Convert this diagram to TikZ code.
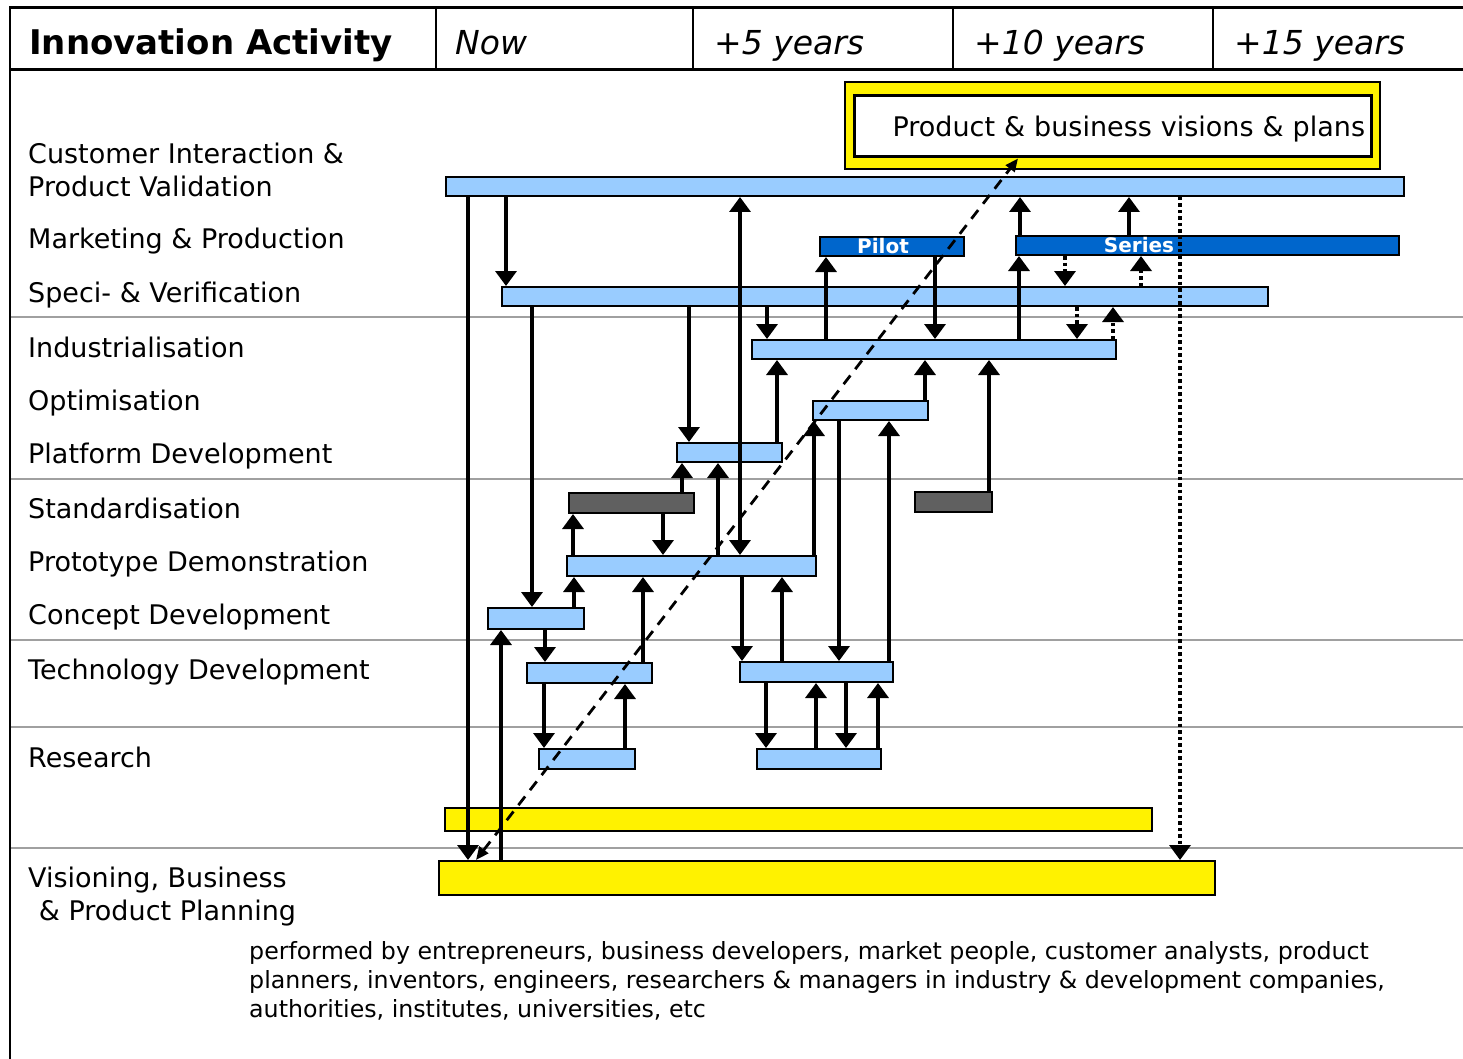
\documentclass[tikz,border=0pt]{standalone}
\usepackage{fontspec}
\setmainfont{DejaVu Sans}
\usetikzlibrary{arrows.meta}
\definecolor{barblue}{RGB}{153,204,255}
\definecolor{pilotblue}{RGB}{0,102,204}
\definecolor{stdgray}{RGB}{96,96,96}
\definecolor{rulegray}{RGB}{160,160,160}
\tikzset{
  bar/.style={draw, line width=2pt, inner sep=0pt},
  flow/.style={line width=3.5pt, -{Triangle[length=15pt,width=21pt]}},
  flowboth/.style={line width=3.5pt, {Triangle[length=15pt,width=21pt]}-{Triangle[length=15pt,width=21pt]}},
  dotflow/.style={flow, dash pattern=on 3.5pt off 3pt},
  vision/.style={line width=2.8pt, dash pattern=on 11pt off 8pt, {Triangle[length=13pt,width=11pt]}-{Triangle[length=13pt,width=11pt]}},
  rowlabel/.style={anchor=base west, inner sep=0pt, font=\fontsize{27}{33}\selectfont},
  headlabel/.style={anchor=base west, inner sep=0pt, font=\fontsize{33}{40}\selectfont\itshape},
  barlabel/.style={inner sep=0pt, text=white, font=\fontsize{20}{24}\selectfont\bfseries},
}
\begin{document}
\begin{tikzpicture}[x=1pt,y=-1pt]
  \useasboundingbox (0,0) rectangle (1463,1059);
  % table rules
  \foreach \y in {317,479,640,727,848}
    \draw[rulegray, line width=2.5pt] (10,\y) -- (1463,\y);
  \draw[line width=3pt] (9,8) -- (1463,8);
  \draw[line width=3pt] (9,70) -- (1463,70);
  \draw[line width=2.5pt] (10,7) -- (10,1059);
  \foreach \x in {436,693,953,1213}
    \draw[line width=2pt] (\x,8) -- (\x,70);
  % header
  \node[anchor=base west, inner sep=0pt, font=\fontsize{34}{40}\selectfont\bfseries] (hdact) at (29,55) {Innovation Activity};
  \node[headlabel] (hdnow) at (455,55) {Now};
  \node[headlabel] (hdfive) at (714,55) {+5 years};
  \node[headlabel] (hdten) at (974,55) {+10 years};
  \node[headlabel] (hdfifteen) at (1234,55) {+15 years};
  % row labels
  \node[rowlabel, align=left, anchor=north west] (labci) at (28,143) {Customer Interaction \&\\Product Validation};
  \foreach \y/\t [count=\i] in {249/Marketing \& Production, 302/Speci- \& Verification,
      357/Industrialisation, 410/Optimisation, 463/Platform Development,
      518/Standardisation, 571/Prototype Demonstration, 624/Concept Development,
      679/Technology Development, 767/Research}
    \node[rowlabel] (lab\i) at (28,\y) {\t};
  \node[rowlabel, align=left, anchor=north west] (labvis) at (28,867) {Visioning, Business\\\hspace*{0.4em}\& Product Planning};
  \node[anchor=north west, inner sep=0pt, align=left, font=\fontsize{23.7}{29}\selectfont] (performers) at (249,941)
    {performed by entrepreneurs, business developers, market people, customer analysts, product\\
     planners, inventors, engineers, researchers \& managers in industry \& development companies,\\
     authorities, institutes, universities, etc};
  % visions box
  \node[bar, fill=yellow, minimum width=535pt, minimum height=87pt] (visionsframe) at (1112.5,125.5) {};
  \node[bar, line width=3pt, fill=white, minimum width=517pt, minimum height=61pt, text width=505pt, align=right,
        text depth=0pt, font=\fontsize{27}{33}\selectfont] (visions) at (1112.5,126.5) {Product \& business visions \& plans};
  % activity bars
  \foreach \n/\xa/\ya/\xb/\yb/\c in {ci/446/177/1404/196/barblue, pilot/820/237/964/256/pilotblue,
      series/1016/236/1399/255/pilotblue, spec/502/287/1268/306/barblue, ind/752/340/1116/359/barblue,
      opt/813/401/928/420/barblue, plat/677/443/782/462/barblue, stdA/569/493/694/513/stdgray,
      stdB/915/492/992/512/stdgray, proto/567/556/816/576/barblue, concept/488/608/584/629/barblue,
      techA/527/663/652/683/barblue, techB/740/662/893/682/barblue, resA/539/749/635/769/barblue,
      resB/757/749/881/769/barblue, visA/445/808/1152/831/yellow, visB/439/861/1215/895/yellow}
    \node[bar, fill=\c, minimum width={(\xb-\xa)*1pt}, minimum height={(\yb-\ya)*1pt}] (\n) at ({(\xa+\xb)/2},{(\ya+\yb)/2}) {};
  \node[barlabel] (pilottext) at (883,246.5) {Pilot};
  \node[barlabel] (seriestext) at (1139,245.5) {Series};
  % downward flows
  \foreach \x/\a/\b in {468/ci/visB, 506/ci/spec, 532/spec/concept, 689/spec/plat, 767/spec/ind,
      935/pilot/ind, 663/stdA/proto, 839/opt/techB, 545/concept/techA, 742/proto/techB,
      544/techA/resA, 766/techB/resB, 846/techB/resB}
    \draw[flow] (\a.south -| \x,0) -- (\b.north -| \x,0);
  % upward flows
  \foreach \x/\a/\b in {826/ind/pilot, 1019/ind/series, 1020/series/ci, 1129/series/ci, 777/plat/ind,
      925/opt/ind, 989/stdB/ind, 814/proto/opt, 889/techB/opt, 682/stdA/plat, 718/proto/plat,
      573/proto/stdA, 574/concept/proto, 643/techA/proto, 782/techB/proto, 501/visB/concept,
      625/resA/techA, 816/resB/techB, 878/resB/techB}
    \draw[flow] (\a.north -| \x,0) -- (\b.south -| \x,0);
  \draw[flowboth] (ci.south -| 740,0) -- (proto.north -| 740,0);
  % dotted feedback
  \foreach \x/\a/\b in {1065/series/spec, 1077/spec/ind, 1180/ci/visB}
    \draw[dotflow] (\a.south -| \x,0) -- (\b.north -| \x,0);
  \foreach \x/\a/\b in {1141/spec/series, 1113/ind/spec}
    \draw[dotflow] (\a.north -| \x,0) -- (\b.south -| \x,0);
  % vision line
  \draw[vision] (visB.north -| 476,0) -- (visions.south -| 1018,0);
\end{tikzpicture}
\end{document}
